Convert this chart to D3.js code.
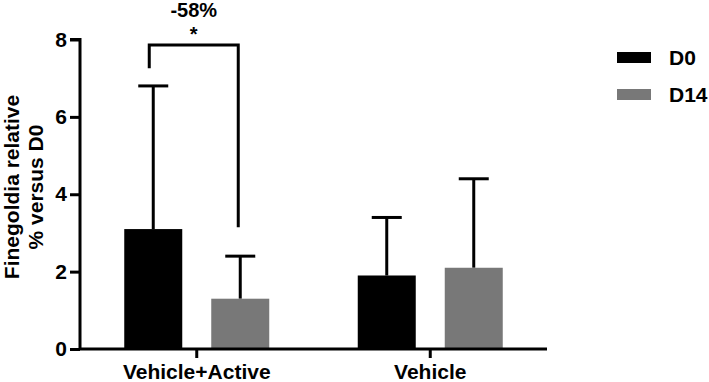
<!DOCTYPE html>
<html><head><meta charset="utf-8">
<script src="https://cdn.jsdelivr.net/npm/d3@7"></script>
<style>
html,body{margin:0;padding:0;background:#fff;}
text{font-family:"Liberation Sans",Arial,sans-serif;font-weight:bold;fill:#000;}
</style></head>
<body><svg id="chart" width="709" height="382"></svg>
<script>
const categories = ["Vehicle+Active", "Vehicle"];
const seriesNames = ["D0", "D14"];
const meanD0 = [3.1, 1.9];
const meanD14 = [1.3, 2.1];
const errTopD0 = [6.8, 3.4];
const errTopD14 = [2.4, 4.4];
const yTicks = [0, 2, 4, 6, 8];
const colors = ["#000000", "#787878"];
// significance bracket (data units): top, left leg bottom, right leg bottom
const bracketY = [7.86, 7.26, 3.15];
const bracketLabel = ["-58%", "*"];
const yTitle = ["Finegoldia relative", "% versus D0"];

const FONT = "'Liberation Sans',Arial,sans-serif";
const svg = d3.select("#chart");
const x0 = d3.scaleBand().domain(categories).range([80, 547]).padding(0);
const x1 = d3.scaleBand().domain(seriesNames)
  .range([x0.bandwidth()/2 - 72.5, x0.bandwidth()/2 + 72.5]).paddingInner(1/3);
const y = d3.scaleLinear().domain([0, 8]).range([349, 39.5]);

const data = [];
categories.forEach((c, i) => {
  data.push({cat: c, s: "D0", v: meanD0[i], e: errTopD0[i], col: colors[0]});
  data.push({cat: c, s: "D14", v: meanD14[i], e: errTopD14[i], col: colors[1]});
});
const cx = d => x0(d.cat) + x1(d.s) + x1.bandwidth()/2;

// error bars
const eg = svg.append("g").attr("stroke", "#000").attr("stroke-width", 3);
data.forEach(d => {
  eg.append("line").attr("x1", cx(d)).attr("x2", cx(d)).attr("y1", y(d.v)).attr("y2", y(d.e));
  eg.append("line").attr("x1", cx(d) - 15).attr("x2", cx(d) + 15).attr("y1", y(d.e)).attr("y2", y(d.e));
});

// bars
svg.append("g").selectAll("rect").data(data).join("rect")
  .attr("x", d => x0(d.cat) + x1(d.s))
  .attr("width", x1.bandwidth())
  .attr("y", d => y(d.v))
  .attr("height", d => y(0) - y(d.v))
  .attr("fill", d => d.col);

// axes
const yAxis = svg.append("g").attr("transform", "translate(80,0)")
  .call(d3.axisLeft(y).tickValues(yTicks).tickSize(10).tickPadding(3).tickFormat(d3.format("d")));
yAxis.select(".domain").attr("stroke-width", 3).attr("d", `M-10,${y(8)}H0V${y(0)}`);
yAxis.selectAll(".tick line").attr("stroke-width", 3);
yAxis.selectAll(".tick text").attr("font-size", 21).style("font-family", FONT).style("font-weight", "bold");

const xAxis = svg.append("g").attr("transform", `translate(0,${y(0)})`)
  .call(d3.axisBottom(x0).tickSize(9).tickPadding(8));
xAxis.select(".domain").attr("stroke-width", 3).attr("d", `M80,0H547`);
xAxis.selectAll(".tick line").attr("stroke-width", 3);
xAxis.selectAll(".tick text").attr("font-size", 21).attr("dy", null).attr("y", 30)
  .style("font-family", FONT).style("font-weight", "bold");

// y title
const yt = svg.append("text").attr("transform", "translate(0,187) rotate(-90)")
  .attr("text-anchor", "middle").attr("font-size", 21);
yt.append("tspan").attr("x", 0).attr("y", 18.5).text(yTitle[0]);
yt.append("tspan").attr("x", 0).attr("y", 43).text(yTitle[1]);

// bracket
const lx = cx(data[0]) - 4, rx = cx(data[1]) - 2;
svg.append("path")
  .attr("d", `M${lx},${y(bracketY[1])}V${y(bracketY[0])}H${rx}V${y(bracketY[2])}`)
  .attr("fill", "none").attr("stroke", "#000").attr("stroke-width", 3);
const mid = (lx + rx) / 2;
svg.append("text").attr("x", mid).attr("y", 17).attr("text-anchor", "middle").attr("font-size", 20).text(bracketLabel[0]);
svg.append("text").attr("x", mid).attr("y", 41).attr("text-anchor", "middle").attr("font-size", 20).text(bracketLabel[1]);

// legend
const lg = svg.append("g");
seriesNames.forEach((s, i) => {
  lg.append("rect").attr("x", 617).attr("y", 52 + i*37).attr("width", 34).attr("height", 11).attr("fill", colors[i]);
  lg.append("text").attr("x", 669).attr("y", 57.5 + i*37).attr("dy", "0.36em").attr("font-size", 21).text(s);
});
</script></body></html>
